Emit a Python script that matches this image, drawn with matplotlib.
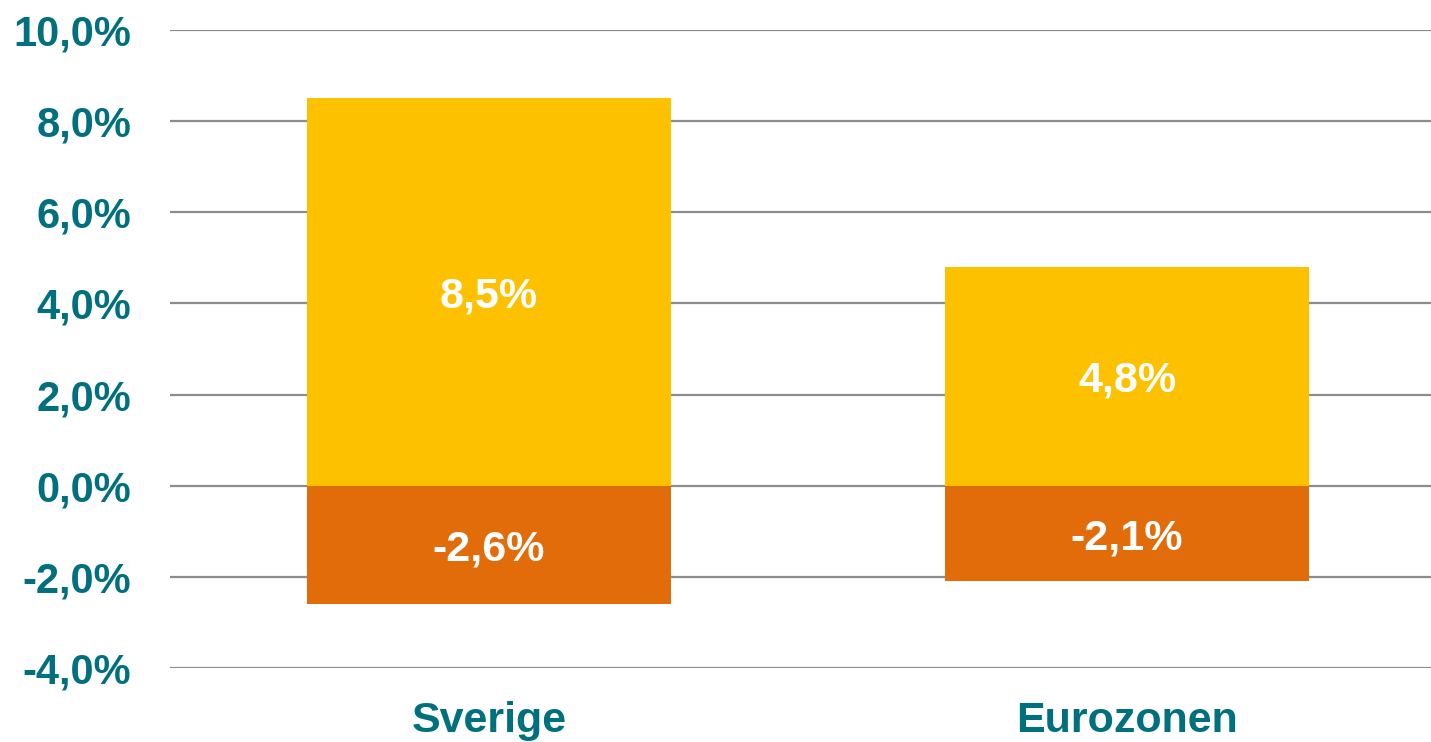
import numpy as np
import matplotlib
matplotlib.use("Agg")
import matplotlib.pyplot as plt
from matplotlib.ticker import FuncFormatter

# data
categories = ["Sverige", "Eurozonen"]
positive = [8.5, 4.8]
negative = [-2.6, -2.1]

yellow = "#FDC100"
orange = "#E36C0A"
teal = "#00707F"

plt.rcParams['font.family'] = ['Liberation Sans', 'DejaVu Sans']

fig = plt.figure(figsize=(14.31, 7.42), dpi=100)
# plot area runs past the right edge of the picture, as in the original crop
ax = fig.add_axes([170 / 1431, 1 - 668 / 742, 1276 / 1431, 638 / 742])

x = np.arange(len(categories))
width = 0.57
bars_pos = ax.bar(x, positive, width, color=yellow, zorder=3)
bars_neg = ax.bar(x, negative, width, color=orange, zorder=3)

for bars, vals in ((bars_pos, positive), (bars_neg, negative)):
    for b, v in zip(bars, vals):
        ax.text(b.get_x() + b.get_width() / 2, v / 2 - 0.1,
                ("%.1f%%" % v).replace(".", ","),
                ha="center", va="center", color="white",
                fontsize=31, fontweight="bold", zorder=4)

ax.set_xlim(-0.5, 1.5)
ax.set_ylim(-4, 10)
ax.set_yticks(np.arange(-4, 11, 2))
ax.yaxis.set_major_formatter(FuncFormatter(lambda v, p: ("%.1f%%" % v).replace(".", ",")))
ax.set_xticks(x)
ax.set_xticklabels(categories)

ax.grid(axis="y", color="#8C8C8C", linewidth=1.6, zorder=0)
for s in ax.spines.values():
    s.set_visible(False)
ax.tick_params(axis="both", length=0, labelcolor=teal, labelsize=30)
ax.tick_params(axis="x", labelsize=31, pad=24)
ax.tick_params(axis="y", pad=28)
for lbl in ax.get_xticklabels() + ax.get_yticklabels():
    lbl.set_fontweight("bold")

fig.savefig("out.png", dpi=100)
